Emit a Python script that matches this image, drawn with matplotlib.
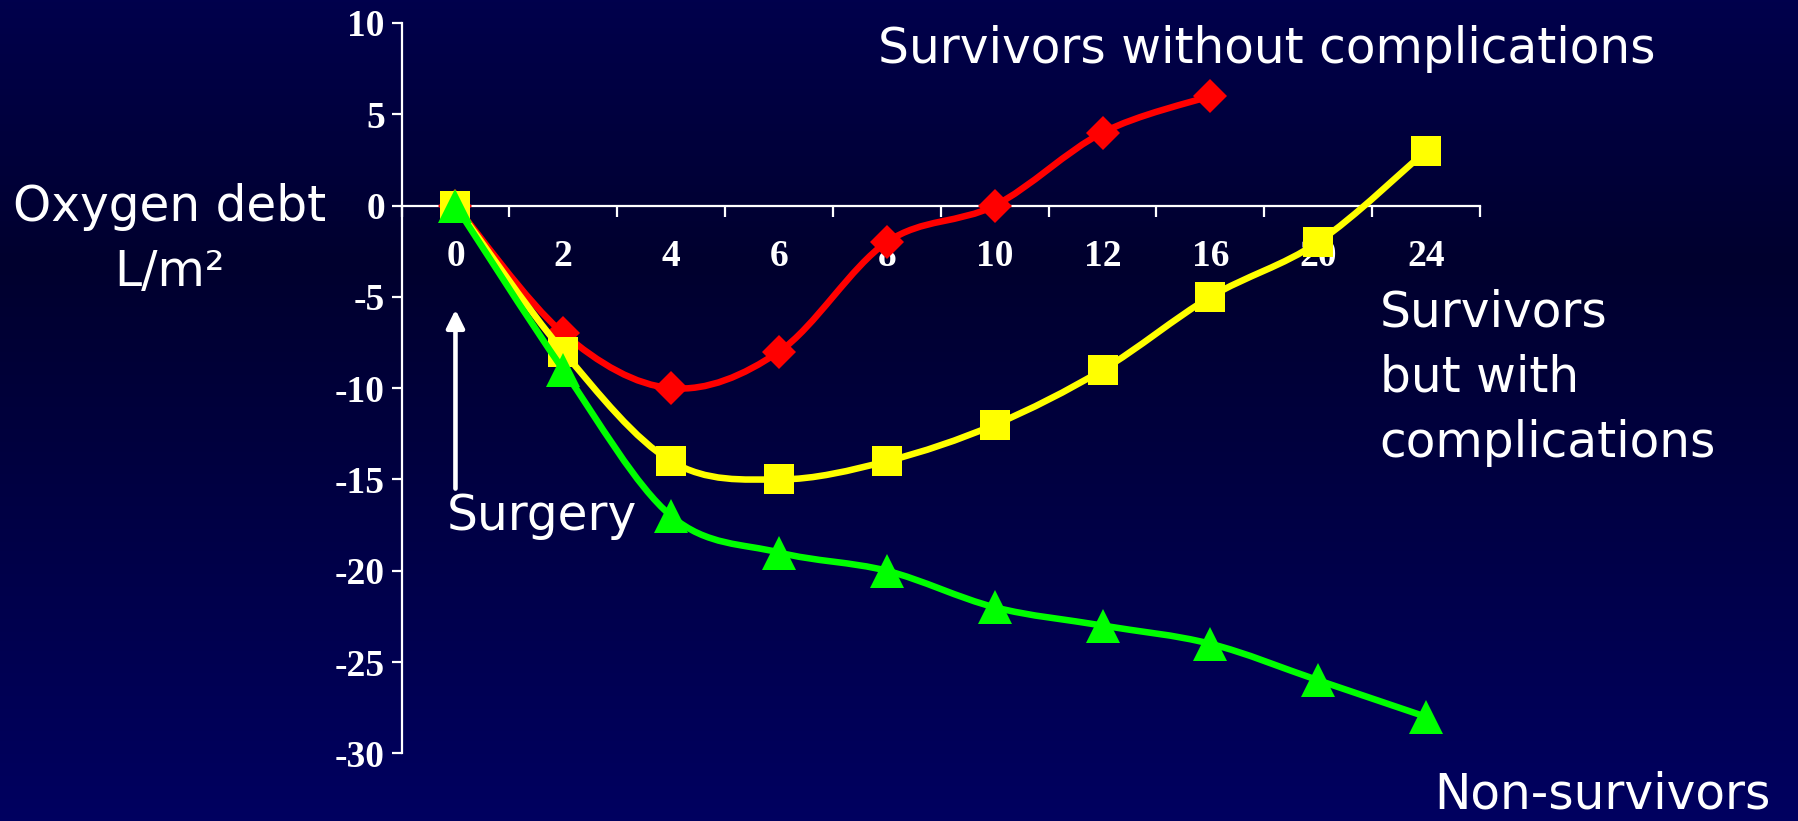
import numpy as np
import matplotlib
matplotlib.use("Agg")
import matplotlib.pyplot as plt
from matplotlib.path import Path
from matplotlib.patches import PathPatch
from matplotlib.colors import LinearSegmentedColormap

# Hours after surgery (categorical axis)
hours = ["0", "2", "4", "6", "8", "10", "12", "16", "20", "24"]

# Oxygen debt (L/m2) per group
no_complications = [0, -7, -10, -8, -2, 0, 4, 6]
with_complications = [0, -8, -14, -15, -14, -12, -9, -5, -2, 3]
non_survivors = [0, -9, -17, -19, -20, -22, -23, -24, -26, -28]

y_ticks = [10, 5, 0, -5, -10, -15, -20, -25, -30]


def smooth_path(xs, ys):
    """Bezier path through the points (Catmull-Rom style smoothing)."""
    pts = np.column_stack([xs, ys]).astype(float)
    n = len(pts)
    verts = [pts[0]]
    codes = [Path.MOVETO]
    for i in range(n - 1):
        p_prev = pts[i - 1] if i > 0 else pts[i]
        p0, p1 = pts[i], pts[i + 1]
        p_next = pts[i + 2] if i + 2 < n else pts[i + 1]
        c1 = p0 + (p1 - p_prev) / 6.0
        c2 = p1 - (p_next - p0) / 6.0
        verts += [c1, c2, p1]
        codes += [Path.CURVE4] * 3
    return Path(verts, codes)


W, H, DPI = 1799, 821, 100
fig = plt.figure(figsize=(W / DPI, H / DPI), dpi=DPI)

# Slide background: vertical navy gradient
bg = fig.add_axes([0, 0, 1, 1], zorder=-10)
bg.axis("off")
cmap = LinearSegmentedColormap.from_list(
    "slide", [(0.0, "#00004c"), (0.32, "#00002e"), (1.0, "#000060")])
grad = np.linspace(0, 1, 256).reshape(-1, 1)
bg.imshow(grad, aspect="auto", cmap=cmap, extent=[0, 1, 0, 1], origin="upper")

ax = fig.add_axes([0.2232, 0.0824, 0.5995, 0.8896])
ax.set_facecolor("none")
ax.set_xlim(-0.5, len(hours) - 0.5)
ax.set_ylim(-30, 10)

series = [
    (no_complications, "#ff0000", "D", 17),
    (with_complications, "#ffff00", "s", 22),
    (non_survivors, "#00ff00", "^", 25),
]
for k, (vals, col, mk, ms) in enumerate(series):
    xs = np.arange(len(vals))
    ax.add_patch(PathPatch(smooth_path(xs, vals), fill=False, edgecolor=col,
                           lw=4.7, transform=ax.transData, zorder=3 + k,
                           capstyle="round", joinstyle="round"))
    ax.plot(xs, vals, linestyle="none", marker=mk, ms=ms, color=col,
            markeredgewidth=0, zorder=3 + k)

# Axes styling
for s in ["top", "right"]:
    ax.spines[s].set_visible(False)
ax.spines["bottom"].set_position(("data", 0))
for s in ["left", "bottom"]:
    ax.spines[s].set_color("white")
    ax.spines[s].set_linewidth(1.6)

tick_font = dict(family="Liberation Serif", weight="bold", size=27)
ax.set_yticks(y_ticks)
ax.set_yticklabels([str(v) for v in y_ticks], color="white", **tick_font)
ax.tick_params(axis="y", direction="out", length=7, width=1.6, color="white", pad=5)

ax.set_xticks(np.arange(len(hours) + 1) - 0.5)
ax.set_xticklabels([])
ax.set_xticks(np.arange(len(hours)), minor=True)
ax.set_xticklabels(hours, minor=True, color="white", **tick_font)
ax.tick_params(axis="x", which="major", direction="out", length=8, width=1.6,
               color="white")
ax.tick_params(axis="x", which="minor", length=0, pad=24)

note_font = dict(family="DejaVu Sans", color="white", size=35)

# Surgery marker
ax.annotate("", xy=(0, -5.7), xytext=(0, -15.5),
            arrowprops=dict(arrowstyle="-|>", color="white", lw=3.3,
                            mutation_scale=27, shrinkA=0, shrinkB=0))
ax.text(-0.08, -17.0, "Surgery", ha="left", va="center", **note_font)

fig.text(0.0944, 0.708, "Oxygen debt\nL/m²", ha="center", va="center",
         linespacing=1.45, **note_font)
fig.text(0.488, 0.940, "Survivors without complications", ha="left",
         va="center", **note_font)
fig.text(0.767, 0.540, "Survivors\nbut with\ncomplications", ha="left",
         va="center", linespacing=1.45, **note_font)
fig.text(0.797, 0.032, "Non-survivors", ha="left", va="center", **note_font)

fig.savefig("out.png", dpi=DPI)
